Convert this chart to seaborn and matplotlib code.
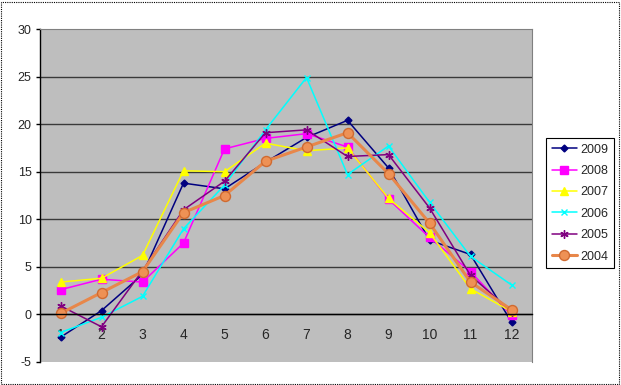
import matplotlib
matplotlib.use("Agg")
import matplotlib.pyplot as plt
import seaborn as sns
import numpy as np
from matplotlib.patches import Rectangle

months = list(range(1, 13))
y2009 = [-2.4, 0.4, 4.2, 13.8, 13.2, 16.0, 18.6, 20.4, 15.4, 7.8, 6.3, -0.8]
y2008 = [2.6, 3.7, 3.4, 7.5, 17.4, 18.5, 19.0, 17.6, 12.1, 8.1, 4.5, -0.1]
y2007 = [3.4, 3.8, 6.2, 15.1, 15.0, 18.0, 17.2, 17.5, 12.2, 8.6, 2.7, 0.3]
y2006 = [-1.9, -0.3, 1.9, 9.0, 13.6, 19.4, 24.9, 14.7, 17.7, 11.8, 6.1, 3.1]
y2005 = [0.9, -1.3, 4.6, 11.0, 14.0, 19.1, 19.4, 16.6, 16.8, 11.2, 4.1, 0.3]
y2004 = [0.1, 2.3, 4.5, 10.7, 12.5, 16.1, 17.6, 19.1, 14.8, 9.6, 3.4, 0.5]
series = [("2009", y2009), ("2008", y2008), ("2007", y2007),
          ("2006", y2006), ("2005", y2005), ("2004", y2004)]
yticks = [-5, 0, 5, 10, 15, 20, 25, 30]

sns.set_style("white")
plt.rcParams['font.family'] = ['Liberation Sans', 'DejaVu Sans']

styles = {
    "2009": dict(color="#000080", marker="D", markersize=3.5, lw=1.1, mec="#000080", mfc="#000080"),
    "2008": dict(color="#FF00FF", marker="s", markersize=5.2, lw=1.1, mec="#FF00FF", mfc="#FF00FF"),
    "2007": dict(color="#FFFF00", marker="^", markersize=5.5, lw=1.1, mec="#FFFF00", mfc="#FFFF00"),
    "2006": dict(color="#00FFFF", marker="x", markersize=5, lw=1.1, mec="#00FFFF", mfc="#00FFFF"),
    "2005": dict(color="#800080", marker=(6, 2, 0), markersize=6, lw=1.1, mec="#800080", mfc="#800080"),
    "2004": dict(color="#E8874A", marker="o", markersize=7.2, lw=2.2, mec="#D06A30", mfc="#EE9155"),
}

fig = plt.figure(figsize=(6.21, 3.85), dpi=100)
ax = fig.add_axes([40/621, 23/385, 492/621, 333/385])
ax.set_facecolor("#BEBEBE")

for name, vals in series:
    st = styles[name]
    sns.lineplot(x=months, y=vals, ax=ax, label=name, color=st["color"],
                 marker=st["marker"], markersize=st["markersize"], linewidth=st["lw"],
                 markeredgecolor=st["mec"], markerfacecolor=st["mfc"],
                 markeredgewidth=1.0, legend=False)

ax.set_xlim(0.5, 12.5)
ax.set_ylim(-5, 30)
ax.set_yticks(yticks)
ax.set_yticklabels([str(t) for t in yticks], fontsize=9)
for t in yticks[1:-1]:
    ax.axhline(t, color="#3A3A3A", lw=1.0, zorder=0.5)

ax.set_xticks(months)
ax.set_xticklabels([str(m) for m in months], fontsize=9)
ax.set_xticks(np.arange(0.5, 13, 1), minor=True)
ax.tick_params(axis="x", which="major", length=0, pad=10)
ax.tick_params(axis="x", which="minor", length=3, direction="out", color="black", width=1)
ax.tick_params(axis="y", length=3, direction="out", color="black", width=1, pad=3, left=True)
ax.spines["bottom"].set_position(("data", 0))
ax.spines["bottom"].set_color("black")
ax.spines["bottom"].set_linewidth(1)
ax.spines["left"].set_color("black")
ax.spines["left"].set_linewidth(1)
ax.spines["top"].set_color("#808080")
ax.spines["right"].set_color("#808080")
ax.set_xlabel("")
ax.set_ylabel("")

handles, labels = ax.get_legend_handles_labels()
leg = fig.legend(handles, labels, loc="upper left",
                 bbox_to_anchor=(546/621, 1 - 138/385), fontsize=9,
                 frameon=True, fancybox=False, edgecolor="black",
                 framealpha=1, borderpad=0.45, labelspacing=0.75,
                 handlelength=2.0, handletextpad=0.3, borderaxespad=0)
leg.get_frame().set_linewidth(0.8)

fig.patches.append(Rectangle((1/621, 1/385), 618/621, 382/385, transform=fig.transFigure,
                             fill=False, ls=(0, (1, 1)), lw=0.8, ec="black"))

fig.savefig("out.png", dpi=100)
